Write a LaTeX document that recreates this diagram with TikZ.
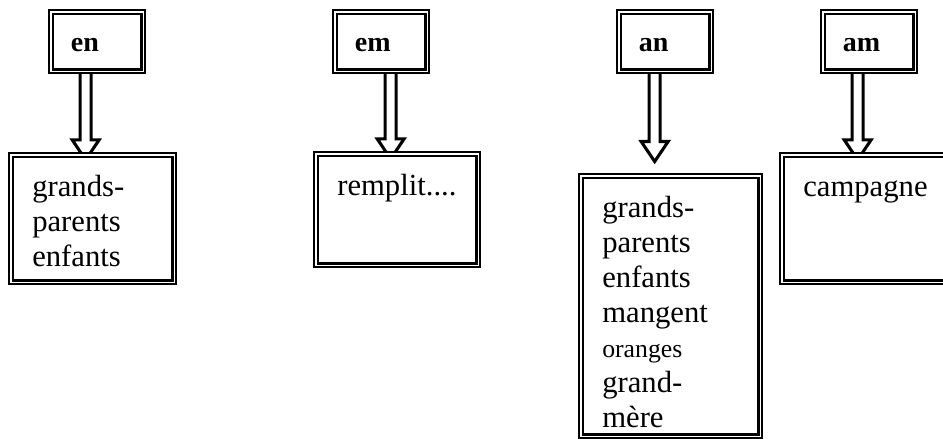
\documentclass[tikz,border=0pt]{standalone}
\usepackage{fontspec}
\setmainfont{Liberation Serif}
\usetikzlibrary{calc, backgrounds}
\tikzset{
  cajaBase/.style={
    draw, double, line width=1.75pt, double distance=1.1pt,
    fill=white, anchor=north west, inner ysep=0pt, align=left
  },
  cajaSilaba/.style={cajaBase, inner xsep=15pt, text width=39.3pt,
    text height=29.4pt, text depth=15.15pt,
    font=\fontsize{21}{24}\selectfont\bfseries},
  cajaLista/.style={cajaBase, inner xsep=16pt, text height=30.9pt,
    font=\fontsize{23}{26.3}\selectfont},
  flechaHueca/.style={line width=2.3pt, miter limit=10},
}
% flecha hueca: origen, destino, desplazamiento x, punta dentro del destino
\newcommand{\flechaHueca}[4]{%
  \begin{pgfonlayer}{background}
    \coordinate (fSale) at ($(#1.south)+(#3,0)$);
    \coordinate (fPunta) at ($(fSale |- #2.north)+(0,#4)$);
    \draw[flechaHueca] ($(fSale)+(-5.5,0)$) -- ($(fPunta)+(-5.5,-20)$)
      -- ($(fPunta)+(-13.5,-20)$) -- (fPunta) -- ($(fPunta)+(13.5,-20)$)
      -- ($(fPunta)+(5.5,-20)$) -- ($(fSale)+(5.5,0)$);
  \end{pgfonlayer}}

\begin{document}
\begin{tikzpicture}[x=0.75pt, y=-0.75pt]
  \useasboundingbox (0,0) rectangle (943,439);
  % casillas de arriba
  \node[cajaSilaba] (en) at (49.8,10.8) {en};
  \node[cajaSilaba] (em) at (333.8,10.8) {em};
  \node[cajaSilaba] (an) at (617.8,10.8) {an};
  \node[cajaSilaba] (am) at (821.8,10.8) {am};
  % casillas de abajo
  \node[cajaLista, text width=90.55pt, text depth=64.65pt] (palabrasEn) at (9.8,153.8)
    {grands-\\parents\\enfants};
  \node[cajaLista, text width=89.8pt, text depth=52.65pt] (palabrasEm) at (314.8,152.8)
    {remplit....};
  \node[cajaLista, text width=102.55pt, text depth=164.4pt] (palabrasAn) at (579.8,174.8)
    {grands-\\parents\\enfants\\mangent\\{\fontsize{19.3}{26.3}\selectfont oranges}\\grand-\\mère};
  \node[cajaLista, text width=102.55pt, text depth=64.65pt] (palabrasAm) at (780.8,153.8)
    {campagne};
  % flechas
  \flechaHueca{en}{palabrasEn}{-11.5}{6}
  \flechaHueca{em}{palabrasEm}{9.5}{6}
  \flechaHueca{an}{palabrasAn}{-10.5}{-13.3}
  \flechaHueca{am}{palabrasAm}{-11.5}{6}
\end{tikzpicture}
\end{document}
